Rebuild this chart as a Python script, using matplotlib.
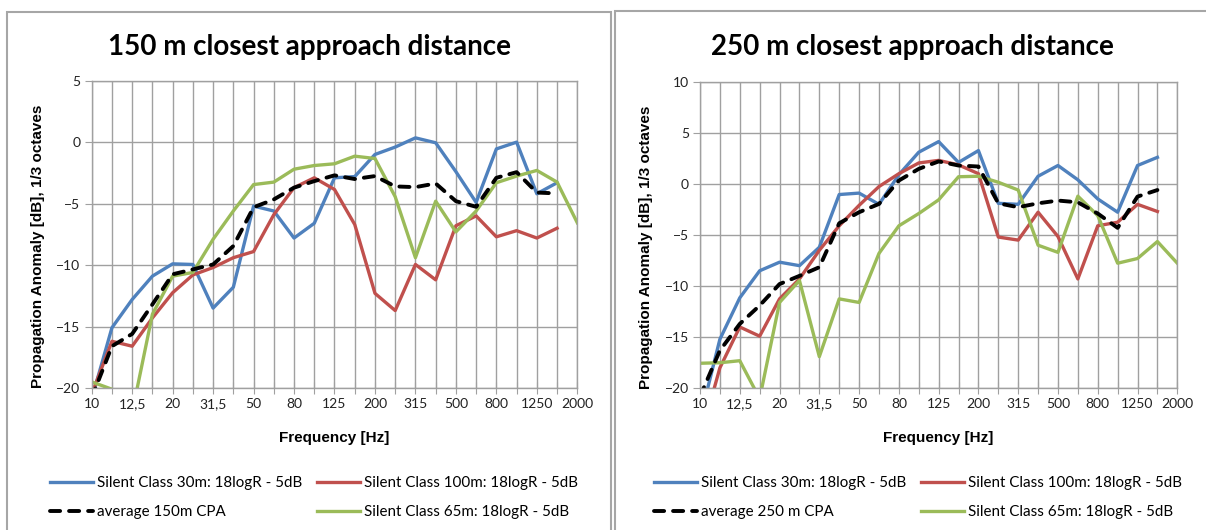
"""
Propagation anomaly per 1/3 octave band, two CPA distances side by side.
"""
import numpy as np
import matplotlib.pyplot as plt
from matplotlib.patches import Rectangle

# x axis: 25 band positions, every second one labelled
n_bands = 25
freq_labels = ['10', '12,5', '20', '31,5', '50', '80', '125', '200',
               '315', '500', '800', '1250', '2000']

# 150 m closest approach distance
sc30_150 = [-20.9, -15.1, -12.8, -10.9, -9.9, -9.95, -13.5, -11.8, -5.2, -5.6, -7.8, -6.6,
            -2.9, -2.8, -1.0, -0.4, 0.35, -0.05, -2.4, -4.9, -0.55, 0.0, -4.2, -3.3]
sc100_150 = [-20.5, -16.2, -16.6, -14.3, -12.25, -10.8, -10.2, -9.4, -8.9, -5.9, -3.7, -2.9,
             -3.85, -6.7, -12.3, -13.7, -9.95, -11.2, -6.8, -6.0, -7.7, -7.2, -7.8, -7.0]
sc65_150 = [-19.5, -20.1, -22.0, -14.0, -10.9, -10.6, -7.9, -5.6, -3.45, -3.25, -2.2, -1.9,
            -1.76, -1.14, -1.33, -4.44, -9.4, -4.8, -7.3, -5.6, -3.3, -2.76, -2.3, -3.25, -6.56]
avg_150 = [-20.8, -16.6, -15.6, -13.2, -10.75, -10.35, -9.95, -8.45, -5.3, -4.66, -3.7, -3.17,
           -2.7, -3.0, -2.76, -3.6, -3.66, -3.36, -4.8, -5.26, -2.9, -2.44, -4.1, -4.17]

# 250 m closest approach distance
sc30_250 = [-23.0, -15.2, -11.15, -8.5, -7.66, -8.0, -6.2, -1.04, -0.9, -2.0, 0.9, 3.1,
            4.14, 2.1, 3.26, -1.9, -2.0, 0.75, 1.8, 0.4, -1.47, -2.77, 1.8, 2.6]
sc100_250 = [-25.0, -18.0, -14.0, -14.9, -11.25, -9.3, -6.5, -4.1, -2.1, -0.26, 1.0, 2.05,
             2.3, 1.86, 1.0, -5.2, -5.5, -2.77, -5.15, -9.3, -4.1, -3.75, -2.0, -2.7]
sc65_250 = [-17.55, -17.5, -17.3, -21.0, -11.6, -9.45, -16.9, -11.25, -11.6, -6.8, -4.1, -2.9,
            -1.56, 0.7, 0.75, 0.16, -0.6, -6.0, -6.7, -1.2, -3.1, -7.76, -7.3, -5.64, -7.76]
avg_250 = [-20.8, -16.3, -13.7, -11.9, -9.8, -9.0, -8.15, -3.85, -2.77, -1.96, 0.33, 1.47,
           2.2, 1.8, 1.7, -1.9, -2.28, -1.9, -1.63, -1.8, -2.9, -4.3, -1.24, -0.6]

BLUE, RED, GREEN = '#4f81bd', '#c0504d', '#9bbb59'
GRID = '#a0a0a0'
TICK_FONT = 'Lato'
BOLD_FONT = ['Liberation Sans Narrow', 'Liberation Sans']

W, H = 1206, 530
fig = plt.figure(figsize=(W / 100, H / 100), dpi=100)


def px_axes(x0, y0, x1, y1):
    # axes rectangle given in pixel coords from top-left
    return fig.add_axes([x0 / W, 1 - y1 / H, (x1 - x0) / W, (y1 - y0) / H])


def draw_panel(ax, title, title_x, ylim, series, avg_label, ylab_x):
    sc30, sc100, sc65, avg = series
    h30, = ax.plot(np.arange(len(sc30)), sc30, color=BLUE, lw=2.4, label='Silent Class 30m: 18logR - 5dB')
    h100, = ax.plot(np.arange(len(sc100)), sc100, color=RED, lw=2.4, label='Silent Class 100m: 18logR - 5dB')
    h65, = ax.plot(np.arange(len(sc65)), sc65, color=GREEN, lw=2.4, label='Silent Class 65m: 18logR - 5dB')
    hav, = ax.plot(np.arange(len(avg)), avg, color='black', lw=2.8, ls=(0, (2.6, 2.3)),
                   dash_capstyle='round', label=avg_label)

    ax.set_xlim(0, n_bands - 1)
    ax.set_ylim(*ylim)
    ax.set_xticks(np.arange(n_bands))
    ax.set_xticklabels([freq_labels[i // 2] if i % 2 == 0 else '' for i in range(n_bands)])
    ax.set_yticks(np.arange(ylim[0], ylim[1] + 1, 5))
    ax.grid(True, color=GRID, lw=1.0)
    ax.set_axisbelow(True)
    for s in ax.spines.values():
        s.set_color(GRID)
        s.set_linewidth(1.0)
    ax.tick_params(axis='x', direction='inout', length=8, color=GRID, pad=3)
    ax.tick_params(axis='y', direction='out', length=5, color=GRID, pad=3)
    for lab in ax.get_xticklabels() + ax.get_yticklabels():
        lab.set_fontfamily(TICK_FONT)
        lab.set_fontsize(10)
        lab.set_color('#222222')

    ax.set_ylabel('Propagation Anomaly [dB], 1/3 octaves', family=BOLD_FONT, weight='bold', fontsize=11)
    ax.yaxis.set_label_coords(ylab_x, 0.46)
    ax.set_xlabel('Frequency [Hz]', family=BOLD_FONT, weight='bold', fontsize=11)
    ax.xaxis.set_label_coords(0.5, -0.14)

    fig.text(title_x / W, 1 - 47 / H, title, ha='center', va='center',
             family=TICK_FONT, weight='bold', fontsize=20)
    return [h30, hav, h100, h65]


ax1 = px_axes(91.7, 80.7, 577.3, 388)
ax2 = px_axes(700, 81.7, 1177.3, 388.3)

hs1 = draw_panel(ax1, '150 m closest approach distance', 309, (-20, 5),
                 (sc30_150, sc100_150, sc65_150, avg_150), 'average 150m CPA', -0.096)
hs2 = draw_panel(ax2, '250 m closest approach distance', 912, (-20, 10),
                 (sc30_250, sc100_250, sc65_250, avg_250), 'average 250 m CPA', -0.098)

for ax, hs, lx in [(ax1, hs1, 50), (ax2, hs2, 654)]:
    ax.legend(handles=hs, ncol=2, loc='upper left', bbox_to_anchor=(lx / W, 1 - 476 / H),
              bbox_transform=fig.transFigure, frameon=False, borderpad=0, borderaxespad=0,
              handlelength=2.85, handletextpad=0.27, columnspacing=0.95, labelspacing=1.0,
              prop={'family': TICK_FONT, 'size': 10.9})

# chart-area frames
fig.add_artist(Rectangle((7 / W, -0.05), 604 / W, 1.05 - 12 / H, transform=fig.transFigure,
                         fill=False, ec='#a6a6a6', lw=1.5))
fig.add_artist(Rectangle((615 / W, -0.05), 610 / W, 1.05 - 11 / H, transform=fig.transFigure,
                         fill=False, ec='#a6a6a6', lw=1.5))

fig.savefig('out.png', dpi=100)
